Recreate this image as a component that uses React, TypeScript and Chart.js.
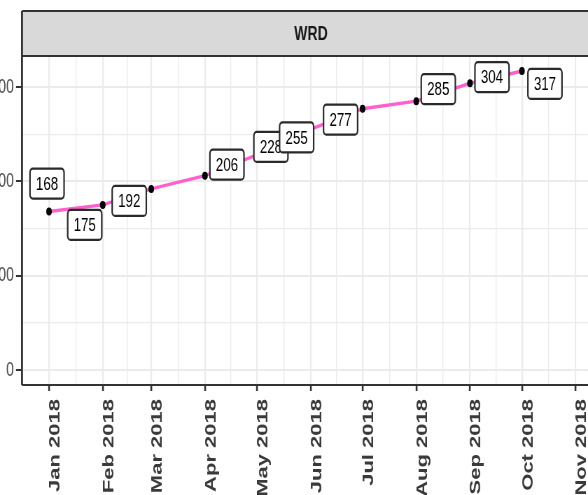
import React, { useEffect, useRef } from 'react';
import { Chart, registerables } from 'chart.js';

Chart.register(...registerables);

// ---- data ----
const PANEL_LABEL = 'WRD';
const MONTHS = ['2018-01', '2018-02', '2018-03', '2018-04', '2018-05', '2018-06', '2018-07', '2018-08', '2018-09', '2018-10'];
const VALUES = [168, 175, 192, 206, 228, 255, 277, 285, 304, 317];
const X_TICK_MONTHS = ['2017-12', '2018-01', '2018-02', '2018-03', '2018-04', '2018-05', '2018-06', '2018-07', '2018-08', '2018-09', '2018-10', '2018-11', '2018-12'];
const MONTH_NAMES = ['Jan', 'Feb', 'Mar', 'Apr', 'May', 'Jun', 'Jul', 'Aug', 'Sep', 'Oct', 'Nov', 'Dec'];
const Y_TICKS = [0, 100, 200, 300];
// label nudges (screen px) relative to their points, as placed by the repel layout
const LABEL_NUDGE: [number, number][] = [[-2, -28], [-18, 20], [-22, 12], [22, -11], [14, -8], [-14, 8], [-22, 11], [22, -12], [22, -6], [23, 13]];

// ---- layout ----
const SQUISH = 0.7;
const CANVAS_W = 870;
const CANVAS_H = 495;
const X_MIN = -15.6;
const X_MAX = 318;
const Y_MIN = -15.85;
const Y_MAX = 332.85;

const DAY = 86400000;
const ORIGIN = Date.UTC(2018, 0, 1);
function monthToDay(m: string): number {
  const [y, mo] = m.split('-').map(Number);
  return (Date.UTC(y, mo - 1, 1) - ORIGIN) / DAY;
}
function monthLabel(m: string): string {
  const [y, mo] = m.split('-').map(Number);
  return `${MONTH_NAMES[mo - 1]} ${y}`;
}

const FONT = '"Liberation Sans", Arial, Helvetica, sans-serif';

export default function App() {
  const ref = useRef<HTMLCanvasElement | null>(null);

  useEffect(() => {
    if (!ref.current) return;

    const majorX = X_TICK_MONTHS.map(monthToDay);
    const minorX: number[] = [];
    for (let i = 0; i < majorX.length - 1; i++) minorX.push((majorX[i] + majorX[i + 1]) / 2);
    const xLabelMap = new Map<number, string>();
    X_TICK_MONTHS.forEach((m) => xLabelMap.set(monthToDay(m), monthLabel(m)));
    const xTicks = [...majorX, ...minorX].filter((v) => v >= X_MIN && v <= X_MAX).sort((a, b) => a - b);
    const majorXSet = new Set(majorX);

    const minorY: number[] = [];
    for (let i = 0; i < Y_TICKS.length - 1; i++) minorY.push((Y_TICKS[i] + Y_TICKS[i + 1]) / 2);
    const yTicks = [...Y_TICKS, ...minorY].sort((a, b) => a - b);
    const majorYSet = new Set(Y_TICKS);

    const panelPlugin = {
      id: 'panelDecor',
      afterDatasetsDraw(chart: any) {
        const { ctx, chartArea } = chart;
        const { left, right, top, bottom } = chartArea;
        ctx.save();
        // panel border
        ctx.strokeStyle = '#333333';
        ctx.lineWidth = 2;
        ctx.beginPath();
        ctx.moveTo(left, top); ctx.lineTo(right, top);
        ctx.moveTo(left, bottom); ctx.lineTo(right, bottom);
        ctx.stroke();
        ctx.lineWidth = 2.8;
        ctx.beginPath();
        ctx.moveTo(left, top); ctx.lineTo(left, bottom);
        ctx.moveTo(right, top); ctx.lineTo(right, bottom);
        ctx.stroke();

        // strip
        const sTop = 11;
        const sH = top - sTop;
        ctx.fillStyle = '#d9d9d9';
        ctx.fillRect(left, sTop, right - left, sH);
        ctx.lineWidth = 2;
        ctx.beginPath();
        ctx.moveTo(left, sTop); ctx.lineTo(right, sTop);
        ctx.moveTo(left, top); ctx.lineTo(right, top);
        ctx.stroke();
        ctx.lineWidth = 2.8;
        ctx.beginPath();
        ctx.moveTo(left, sTop); ctx.lineTo(left, top);
        ctx.moveTo(right, sTop); ctx.lineTo(right, top);
        ctx.stroke();
        ctx.fillStyle = '#1a1a1a';
        ctx.font = `bold 20px ${FONT}`;
        ctx.textAlign = 'center';
        ctx.textBaseline = 'middle';
        ctx.fillText(PANEL_LABEL, (left + right) / 2, sTop + sH / 2 + 1);

        // data labels
        const meta = chart.getDatasetMeta(0);
        ctx.font = `19px ${FONT}`;
        meta.data.forEach((pt: any, i: number) => {
          const text = String(VALUES[i]);
          const [dx, dy] = LABEL_NUDGE[i];
          const cx = pt.x + dx / SQUISH;
          const cy = pt.y + dy;
          const w = ctx.measureText(text).width + 17;
          const h = 30;
          const x0 = cx - w / 2;
          const y0 = cy - h / 2;
          ctx.beginPath();
          (ctx as any).roundRect(x0, y0, w, h, 4);
          ctx.fillStyle = '#ffffff';
          ctx.fill();
          ctx.lineWidth = 2.2;
          ctx.strokeStyle = '#2a2a2a';
          ctx.stroke();
          ctx.fillStyle = '#000000';
          ctx.textAlign = 'center';
          ctx.textBaseline = 'middle';
          ctx.fillText(text, cx, cy + 1);
        });
        ctx.restore();
      },
    };

    const chart = new Chart(ref.current, {
      type: 'line',
      data: {
        datasets: [
          {
            data: MONTHS.map((m, i) => ({ x: monthToDay(m), y: VALUES[i] })),
            borderColor: '#FF61CC',
            borderWidth: 3.4,
            pointRadius: 4,
            pointBackgroundColor: '#000000',
            pointBorderWidth: 0,
            tension: 0,
            fill: false,
          },
        ],
      },
      options: {
        responsive: false,
        animation: false,
        devicePixelRatio: 1,
        layout: { padding: { top: 56, right: 13, left: 0, bottom: 0 } },
        plugins: { legend: { display: false }, tooltip: { enabled: false }, title: { display: false } },
        scales: {
          x: {
            type: 'linear',
            min: X_MIN,
            max: X_MAX,
            afterBuildTicks: (s: any) => {
              s.ticks = xTicks.map((v) => ({ value: v }));
            },
            afterFit: (s: any) => {
              s.height = CANVAS_H - 385;
            },
            border: { display: false },
            grid: {
              color: '#ebebeb',
              lineWidth: (c: any) => (majorXSet.has(c.tick?.value) ? 2.2 : 1.4),
              tickColor: (c: any) => (majorXSet.has(c.tick?.value) ? '#333333' : 'rgba(0,0,0,0)'),
              tickWidth: 2.6,
              tickLength: 6,
            },
            ticks: {
              autoSkip: false,
              minRotation: 90,
              maxRotation: 90,
              padding: 8,
              labelOffset: 9,
              color: '#3a3a3a',
              font: { family: FONT, size: 22, weight: 'bold' },
              callback: (v: any) => xLabelMap.get(Number(v)) ?? '',
            },
          },
          y: {
            type: 'linear',
            min: Y_MIN,
            max: Y_MAX,
            afterBuildTicks: (s: any) => {
              s.ticks = yTicks.map((v) => ({ value: v }));
            },
            afterFit: (s: any) => {
              s.width = 22 / SQUISH;
            },
            border: { display: false },
            grid: {
              color: '#ebebeb',
              lineWidth: (c: any) => (majorYSet.has(c.tick?.value) ? 2 : 1.3),
              tickColor: (c: any) => (majorYSet.has(c.tick?.value) ? '#333333' : 'rgba(0,0,0,0)'),
              tickWidth: 2,
              tickLength: 8.6,
            },
            ticks: {
              padding: 3,
              color: '#4d4d4d',
              font: { family: FONT, size: 20 },
              callback: (v: any) => (majorYSet.has(Number(v)) ? String(v) : ''),
            },
          },
        },
      },
      plugins: [panelPlugin],
    } as any);

    return () => chart.destroy();
  }, []);

  return (
    <div style={{ position: 'fixed', left: 0, top: 0, width: 588, height: 495, overflow: 'hidden', background: '#ffffff' }}>
      <div style={{ width: CANVAS_W, height: CANVAS_H, transform: `scaleX(${SQUISH})`, transformOrigin: '0 0' }}>
        <canvas ref={ref} width={CANVAS_W} height={CANVAS_H} style={{ display: 'block' }} />
      </div>
    </div>
  );
}
